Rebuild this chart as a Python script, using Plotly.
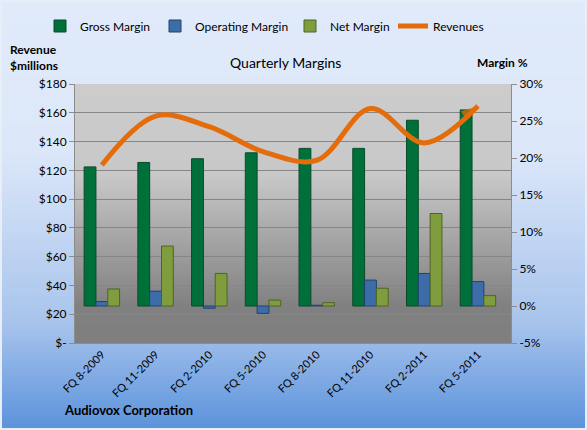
import plotly.graph_objects as go

# ============================================================
# Data
# ============================================================
quarters = ["FQ 8-2009", "FQ 11-2009", "FQ 2-2010", "FQ 5-2010",
            "FQ 8-2010", "FQ 11-2010", "FQ 2-2011", "FQ 5-2011"]

gross_margin     = [18.8, 19.4, 19.9, 20.7, 21.3, 21.3, 25.1, 26.5]   # %
operating_margin = [0.6, 2.0, -0.3, -1.0, 0.1, 3.5, 4.4, 3.3]        # %
net_margin       = [2.3, 8.1, 4.4, 0.8, 0.45, 2.4, 12.5, 1.4]        # %
revenues         = [123.7, 157.7, 150.3, 133.0, 127.0, 163.0, 139.0, 164.7]  # $ millions

rev_ticks  = [0, 20, 40, 60, 80, 100, 120, 140, 160, 180]
rev_labels = ["$-", "$20", "$40", "$60", "$80", "$100", "$120", "$140", "$160", "$180"]
mar_ticks  = [-5, 0, 5, 10, 15, 20, 25, 30]
mar_labels = ["-5%", "0%", "5%", "10%", "15%", "20%", "25%", "30%"]

FONT = "Lato, 'Open Sans', sans-serif"
W, H = 587, 430
ML, MR, MT, MB = 75, 76, 84, 87
PW, PH = W - ML - MR, H - MT - MB


def px_x(x):   # canvas pixel -> paper x
    return (x - ML) / PW


def px_y(y):   # canvas pixel -> paper y
    return (H - MB - y) / PH


def lerp_color(stops, t):
    for (t0, c0), (t1, c1) in zip(stops, stops[1:]):
        if t0 <= t <= t1:
            f = 0 if t1 == t0 else (t - t0) / (t1 - t0)
            return "rgb(%d,%d,%d)" % tuple(round(a + (b - a) * f) for a, b in zip(c0, c1))
    return "rgb(%d,%d,%d)" % stops[-1][1]


def gradient_bands(x0, x1, top, bottom, stops, step=3):
    # pixel rows from top to bottom, each band overlaps the next by 1px
    out = []
    y = top
    while y < bottom:
        yb = min(y + step + 1, bottom)
        t = (y + step / 2 - top) / (bottom - top)
        out.append(dict(type="rect", xref="paper", yref="paper", layer="below",
                        x0=px_x(x0), x1=px_x(x1), y0=px_y(yb), y1=px_y(y),
                        fillcolor=lerp_color(stops, min(t, 1)), line_width=0))
        y += step
    return out


outer_stops = [(0.0, (224, 234, 250)), (0.35, (220, 231, 249)),
               (0.75, (168, 196, 236)), (1.0, (90, 146, 219))]
plot_stops = [(0.0, (204, 204, 204)), (0.35, (200, 200, 200)),
              (0.86, (128, 128, 128)), (1.0, (127, 127, 127))]

shapes = gradient_bands(0, W, 0, H, outer_stops, step=4)
shapes += gradient_bands(ML, W - MR, MT, H - MB, plot_stops, step=3)
shapes.append(dict(type="rect", xref="paper", yref="paper", layer="above",
                   x0=px_x(1), x1=px_x(W - 1), y0=px_y(H - 1), y1=px_y(1),
                   line=dict(color="#E8EEF8", width=2), fillcolor="rgba(0,0,0,0)"))

# ============================================================
# Figure
# ============================================================
fig = go.Figure()

fig.add_trace(go.Bar(
    x=quarters, y=gross_margin, name="Gross Margin", legend="legend",
    marker=dict(color="#00703A", line=dict(color="#0A4A28", width=1)),
    yaxis="y"
))
fig.add_trace(go.Bar(
    x=quarters, y=operating_margin, name="Operating Margin", legend="legend2",
    marker=dict(color="#3D6DA8", line=dict(color="#23436C", width=1)),
    yaxis="y"
))
fig.add_trace(go.Bar(
    x=quarters, y=net_margin, name="Net Margin", legend="legend3",
    marker=dict(color="#7F9D3C", line=dict(color="#4F6424", width=1)),
    yaxis="y"
))

# Revenue line (smoothed) + arrow head on the last point
fig.add_trace(go.Scatter(
    x=quarters, y=revenues, name="Revenues", yaxis="y2", legend="legend4",
    mode="lines", line=dict(color="#E46C0A", width=5, shape="spline")
))
fig.add_trace(go.Scatter(
    x=quarters[-2:], y=revenues[-2:], yaxis="y2", showlegend=False,
    mode="markers", hoverinfo="skip",
    marker=dict(symbol="arrow", size=[0, 18], angleref="previous",
                color="#E46C0A", line=dict(width=0))
))

legend_style = dict(orientation="h", yanchor="middle", y=px_y(26), xanchor="left",
                    font=dict(size=12), bgcolor="rgba(0,0,0,0)", itemwidth=30)

fig.update_layout(
    width=W, height=H,
    margin=dict(l=ML, r=MR, t=MT, b=MB, autoexpand=False),
    paper_bgcolor="#DDE8F9",
    plot_bgcolor="rgba(0,0,0,0)",
    font=dict(family=FONT, size=12, color="#000000"),
    shapes=shapes,
    barmode="group",
    bargap=0.34,
    bargroupgap=0.0,
    showlegend=True,
    legend=dict(legend_style, x=px_x(40)),
    legend2=dict(legend_style, x=px_x(155)),
    legend3=dict(legend_style, x=px_x(290)),
    legend4=dict(legend_style, x=px_x(393)),
    xaxis=dict(type="category", tickangle=-45, tickfont=dict(size=11),
               showgrid=False, showline=True, linecolor="#8C8C8C",
               ticks="", zeroline=False, automargin=False),
    yaxis=dict(side="right", range=[-5, 30], tickvals=mar_ticks, ticktext=mar_labels,
               showgrid=False, zeroline=False, showline=True, linecolor="#8C8C8C",
               ticks="outside", ticklen=5, tickcolor="#8C8C8C",
               tickfont=dict(size=12), automargin=False),
    yaxis2=dict(side="left", overlaying="y", range=[0, 180], tickvals=rev_ticks,
                ticktext=rev_labels, showgrid=True, gridcolor="#868686", gridwidth=1,
                zeroline=False, showline=True, linecolor="#8C8C8C",
                ticks="outside", ticklen=5, tickcolor="#8C8C8C",
                tickfont=dict(size=12), automargin=False),
    annotations=[
        dict(text="Quarterly Margins", xref="paper", yref="paper",
             x=px_x(285), y=px_y(63), showarrow=False,
             font=dict(size=14), xanchor="center", yanchor="middle"),
        dict(text="<b>Revenue<br>$millions</b>", xref="paper", yref="paper",
             x=px_x(8), y=px_y(58), showarrow=False, align="left",
             font=dict(size=12), xanchor="left", yanchor="middle"),
        dict(text="<b>Margin %</b>", xref="paper", yref="paper",
             x=px_x(475), y=px_y(63), showarrow=False,
             font=dict(size=12), xanchor="left", yanchor="middle"),
        dict(text="<b>Audiovox Corporation</b>", xref="paper", yref="paper",
             x=px_x(62), y=px_y(410), showarrow=False,
             font=dict(size=13), xanchor="left", yanchor="middle"),
    ],
)

# the page's default 8px body margin would push the chart off the window
fig.write_html("out.html", config={"displayModeBar": False},
               post_script="document.body.style.margin = '0';")
